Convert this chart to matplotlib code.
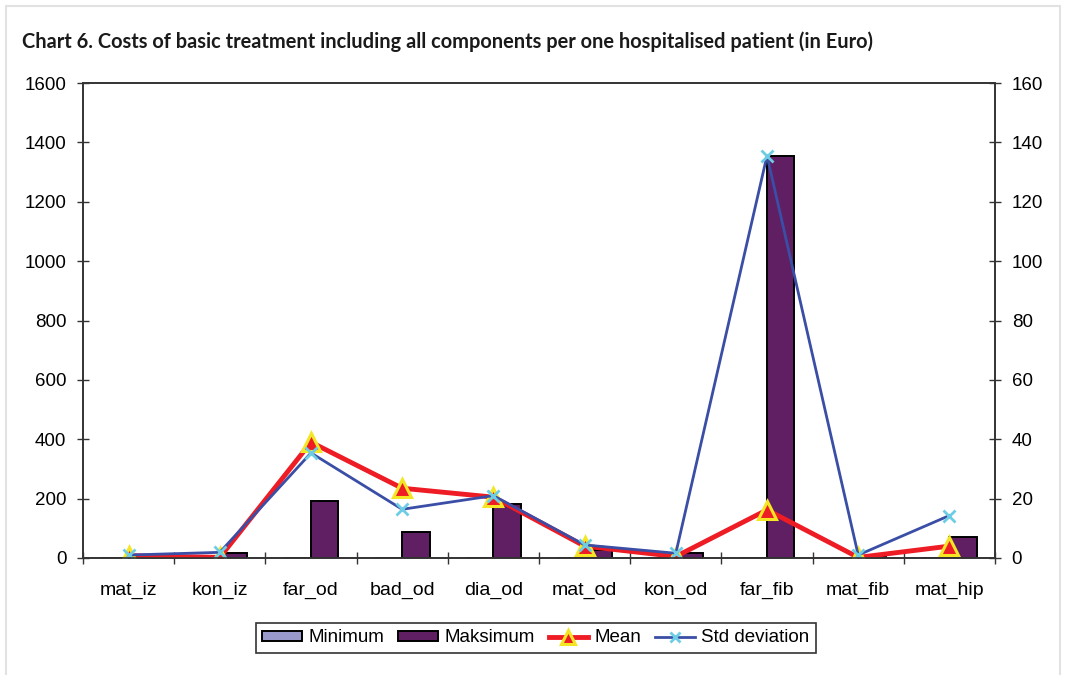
import numpy as np
import matplotlib
matplotlib.use('Agg')
import matplotlib.pyplot as plt
from matplotlib.patches import Rectangle

# cost components per hospitalised patient
categories = ['mat_iz', 'kon_iz', 'far_od', 'bad_od', 'dia_od',
              'mat_od', 'kon_od', 'far_fib', 'mat_fib', 'mat_hip']
minimum = [0, 0, 0, 0, 0, 0, 0, 0, 0, 0]
maksimum = [3, 18, 192, 88, 182, 27, 17, 1355, 5, 70]
mean = [0.8, 0.2, 39, 23.5, 20.5, 4.0, 0.5, 16.2, 0.2, 4.0]
std_dev = [1.0, 1.9, 35.4, 16.4, 21.0, 4.4, 1.6, 135.5, 1.0, 14.3]

left_ticks = np.arange(0, 1601, 200)
right_ticks = np.arange(0, 161, 20)

plt.rcParams['font.family'] = ['Liberation Sans', 'DejaVu Sans']

fig = plt.figure(figsize=(10.65, 6.75), dpi=100)

# thin grey page frame
fig.patches.append(Rectangle((6 / 1065, -0.05), 1054 / 1065, 1 - 6 / 675 + 0.05,
                             transform=fig.transFigure, fill=False,
                             edgecolor='#e2e2e2', linewidth=1.5))

fig.text(22 / 1065, 1 - 42 / 675,
         'Chart 6. Costs of basic treatment including all components per one hospitalised patient (in Euro)',
         fontsize=14.4, fontweight='bold', family='Lato', va='center', ha='left', color='#1a1a1a')

ax = fig.add_axes([83 / 1065, 1 - 558 / 675, 912 / 1065, 475 / 675])
x = np.arange(len(categories))
w = 0.3
ax.bar(x - w / 2, minimum, w, color='#9999cc', edgecolor='black', linewidth=1.4, label='Minimum')
ax.bar(x + w / 2, maksimum, w, color='#5f1f62', edgecolor='black', linewidth=1.4, label='Maksimum')

ax.set_xlim(-0.5, len(categories) - 0.5)
ax.set_ylim(0, 1600)
ax.set_yticks(left_ticks)
ax.set_xticks(x)
ax.set_xticklabels(categories)
ax.set_xticks(np.arange(-0.5, len(categories)), minor=True)
ax.tick_params(axis='x', which='major', length=0, pad=17, labelsize=14)
ax.tick_params(axis='x', which='minor', direction='inout', length=8, width=1, color='#333333')
ax.tick_params(axis='y', direction='inout', length=8, width=1, color='#333333', labelsize=13.5, pad=8)
for s in ax.spines.values():
    s.set_color('#333333')
    s.set_linewidth(1.2)

ax2 = ax.twinx()
ax2.plot(x, mean, color='#ee1c24', linewidth=3.5, marker='^', markersize=13,
         markerfacecolor='#ee1c24', markeredgecolor='#f5e625', markeredgewidth=2.2, label='Mean')
ax2.plot(x, std_dev, color='#3a4ea6', linewidth=2, marker='x', markersize=9,
         markeredgecolor='#6dcde4', markeredgewidth=2, label='Std deviation')
ax2.set_ylim(0, 160)
ax2.set_yticks(right_ticks)
ax2.tick_params(axis='y', direction='inout', length=8, width=1, color='#333333', labelsize=13.5, pad=8)
for s in ax2.spines.values():
    s.set_color('#333333')
    s.set_linewidth(1.2)

h1, l1 = ax.get_legend_handles_labels()
h2, l2 = ax2.get_legend_handles_labels()
leg = fig.legend(h1 + h2, l1 + l2, loc='center', bbox_to_anchor=(536 / 1065, 1 - 638 / 675),
                 ncol=4, fontsize=13.5, frameon=True, fancybox=False, edgecolor='black',
                 handlelength=2.1, handleheight=0.5, handletextpad=0.35, columnspacing=0.75,
                 borderpad=0.35, borderaxespad=0, markerscale=0.75)
leg.get_frame().set_linewidth(1.2)

fig.savefig('out.png', dpi=100)
